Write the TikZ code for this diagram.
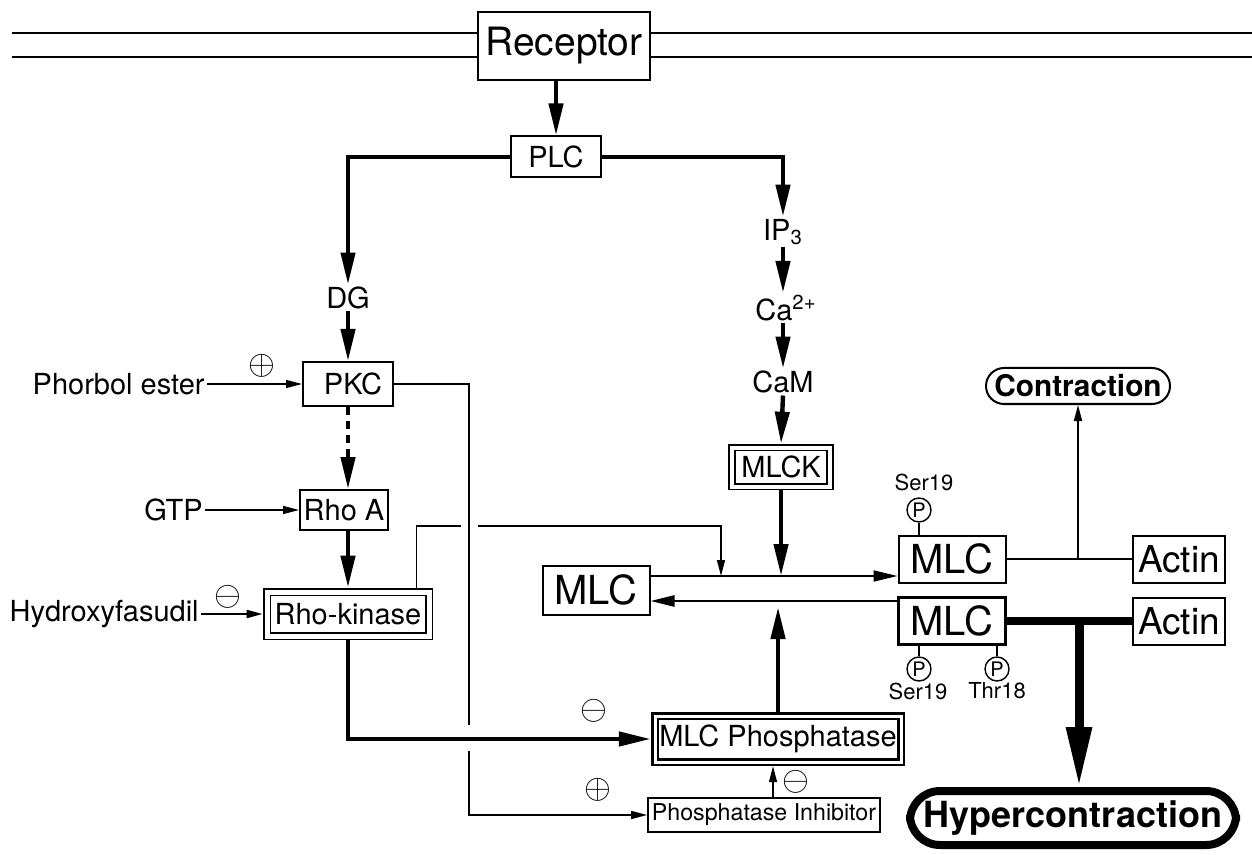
\documentclass[tikz,border=0pt]{standalone}
\usepackage{fontspec}
\setmainfont{TeX Gyre Heros}
\usetikzlibrary{arrows.meta}

\begin{document}
\begin{tikzpicture}[x=0.5pt,y=-0.5pt,line join=miter,
  box/.style={draw,line width=1pt,inner sep=0pt,font=\fontsize{14.5}{16}\selectfont},
  dbox/.style={box,double,double distance=2pt,line width=0.9pt,outer sep=1.9pt},
  lbl/.style={inner sep=1pt,font=\fontsize{14.5}{16}\selectfont},
  big/.style={font=\fontsize{20}{22}\selectfont},
  sign/.style={inner sep=0pt,font=\fontsize{16}{17}\selectfont},
  phos/.style={draw,circle,line width=0.7pt,minimum size=12pt,inner sep=0pt,font=\fontsize{10}{11}\selectfont},
  site/.style={inner sep=0pt,font=\fontsize{11}{12}\selectfont},
  mem/.style={line width=1pt},
  wire/.style={line width=0.75pt},
  thinarrow/.style={wire,-{Triangle[length=8pt,width=4pt]}},
  medarrow/.style={line width=1.3pt,-{Triangle[length=12pt,width=5.5pt]}},
  fat/.style={line width=2.2pt,-{Triangle[length=16pt,width=7pt]}},
  huge/.style={line width=4.5pt,-{Triangle[length=30pt,width=12pt]}}]
  \useasboundingbox (0,0) rectangle (1252,855);

  % membrane and receptor
  \node[box,minimum width=86pt,minimum height=34pt,font=\fontsize{19.5}{22}\selectfont] (rec) at (564,46) {Receptor};
  \coordinate (m1) at (12,33);
  \coordinate (m2) at (12,57);
  \coordinate (m3) at (1252,33);
  \coordinate (m4) at (1252,57);
  \draw[mem] (m1) -- (m1 -| rec.west);
  \draw[mem] (m2) -- (m2 -| rec.west);
  \draw[mem] (rec.east |- m3) -- (m3);
  \draw[mem] (rec.east |- m4) -- (m4);

  % PLC branches
  \node[box,minimum width=45pt,minimum height=20.5pt] (plc) at (556,157) {PLC};
  \node[lbl] (dg) at (348,298) {DG};
  \node[lbl] (ip3) at (783,232) {IP\textsubscript{3}};
  \node[lbl] (ca) at (786,308) {Ca\textsuperscript{2+}};
  \node[lbl] (cam) at (783,382) {CaM};
  \node[dbox,minimum width=49pt,minimum height=19.5pt] (mlck) at (781,467) {MLCK};
  \draw[fat] (plc.north |- rec.south) -- (plc.north);
  \draw[fat] (plc.west) -| (dg.north);
  \draw[fat] (plc.east) -| (ip3.north);
  \draw[fat] (ip3.south) -- (ip3.south |- ca.north);
  \draw[fat] (ip3.south |- ca.south) -- (cam.north);
  \draw[fat] (cam.south) -- (mlck.north);

  % PKC / Rho side
  \node[box,minimum width=45pt,minimum height=22pt] (pkc) at (348,384) {\hspace{5pt}PKC};
  \node[lbl,anchor=east] (pe) at (207,384) {Phorbol ester};
  \node[box,minimum width=44pt,minimum height=20pt] (rhoa) at (344,510) {Rho A};
  \node[lbl,anchor=east] (gtp) at (205,510) {GTP};
  \node[dbox,double distance=2.5pt,outer sep=2.2pt,minimum width=81pt,minimum height=22pt] (rhok) at (348,614) {Rho-kinase};
  \node[lbl,anchor=east] (hf) at (201,614) {Hydroxyfasudil};
  \node[sign] (s1) at (262,366) {$\oplus$};
  \node[sign] (s2) at (228,597) {$\ominus$};
  \draw[fat] (dg.south) -- (dg.south |- pkc.north);
  \draw[fat,dash pattern=on 4pt off 3pt] (dg.south |- pkc.south) -- (dg.south |- rhoa.north);
  \draw[fat] (rhoa.south -| rhok.north) -- (rhok.north);
  \draw[thinarrow] (pe.east) -- (pkc.west);
  \draw[thinarrow] (gtp.east) -- (rhoa.west);
  \draw[thinarrow,line width=1.1pt] (hf.east) -- (rhok.west);

  % MLC cycle
  \node[box,big,minimum width=53.5pt,minimum height=24.5pt] (mlc0) at (596,590) {MLC};
  \node[box,big,minimum width=53.5pt,minimum height=23.5pt] (mlc1) at (952,559) {MLC};
  \node[box,big,line width=1.3pt,minimum width=53.5pt,minimum height=23.5pt] (mlc2) at (952,621) {MLC};
  \node[box,font=\fontsize{18.5}{20}\selectfont,minimum width=46pt,minimum height=23.5pt] (act1) at (1179,559) {Actin};
  \node[box,font=\fontsize{18.5}{20}\selectfont,minimum width=46pt,minimum height=23.5pt] (act2) at (1179,621) {Actin};
  \node[phos] (p1) at (919,510) {P};
  \node[phos] (p2) at (919,669) {P};
  \node[phos] (p3) at (997,669) {P};
  \node[site] (t1) at (924,482) {Ser19};
  \node[site] (t2) at (918,691) {Ser19};
  \node[site] (t3) at (997,691) {Thr18};
  \draw[wire] (p1.south) -- (p1.south |- mlc1.north);
  \draw[wire] (p2.north |- mlc2.south) -- (p2.north);
  \draw[wire] (p3.north |- mlc2.south) -- (p3.north);
  \coordinate (up) at ([yshift=7pt]mlc0.east);
  \coordinate (lo) at ([yshift=10pt]mlc2.west);
  \draw[medarrow,line width=0.9pt] (up) -- (up -| mlc1.west);
  \draw[medarrow] (lo) -- (lo -| mlc0.east);
  \draw[fat] (mlck.south) -- (mlck.south |- up);

  % phosphatase
  \node[dbox,line width=1.3pt,double distance=1.5pt,outer sep=2.1pt,minimum width=123pt,minimum height=23pt] (mlcp) at (778,739) {MLC Phosphatase};
  \node[box,line width=0.8pt,minimum width=116pt,minimum height=17pt,font=\fontsize{11.6}{13}\selectfont] (pinh) at (764,815) {Phosphatase Inhibitor};
  \node[sign] (s3) at (594,711) {$\ominus$};
  \node[sign] (s4) at (598,790) {$\oplus$};
  \node[sign] (s5) at (796,782) {$\ominus$};
  \draw[fat] (rhok.south) |- (mlcp.west);
  \draw[fat] (mlcp.north) -- ([yshift=-3pt]mlcp.north |- lo);
  \draw[thinarrow] ([xshift=4.5pt]pinh.north) -- ([xshift=4.5pt]pinh.north |- mlcp.south);

  % PKC to inhibitor, Rho-kinase to MLC (with gaps at crossings)
  \coordinate (va) at (469,725);
  \coordinate (vb) at (469,751);
  \coordinate (ha) at (461,526);
  \coordinate (hb) at (478,526);
  \coordinate (rkend) at (721,576);
  \draw[wire] (pkc.east) -| (va);
  \draw[thinarrow] (vb) |- (pinh.west);
  \draw[wire] ([xshift=-8.5pt]rhok.north east) |- (ha);
  \draw[thinarrow] (hb) -| (rkend);

  % outcomes
  \node[draw,line width=1pt,rounded corners=9pt,minimum width=92pt,minimum height=18pt,inner sep=0pt,font=\bfseries\fontsize{14.9}{16}\selectfont] (contr) at (1078,386) {Contraction};
  \node[draw,line width=4pt,rounded corners=15pt,outer sep=2pt,minimum width=163pt,minimum height=27pt,inner sep=0pt,font=\bfseries\fontsize{18}{20}\selectfont] (hyper) at (1073,818) {Hypercontraction};
  \draw[wire] (mlc1.east) -- (act1.west);
  \draw[line width=4pt] (mlc2.east) -- (act2.west);
  \draw[thinarrow] (contr.south |- mlc1.east) -- (contr.south);
  \draw[huge] ([xshift=3pt]hyper.north |- mlc2.east) -- ([xshift=3pt]hyper.north);
\end{tikzpicture}
\end{document}
